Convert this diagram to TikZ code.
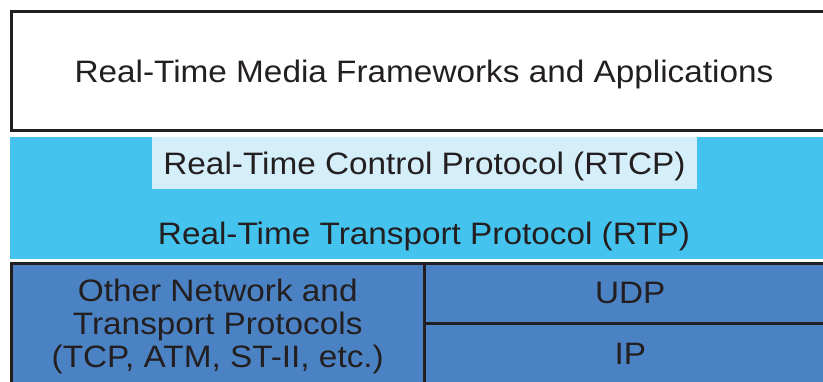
\documentclass[tikz,border=0pt]{standalone}
\usepackage{fontspec}
\setmainfont[FakeStretch=1.075]{Liberation Sans}
\usetikzlibrary{positioning}
\definecolor{ink}      {HTML}{231F20}
\definecolor{rtpcyan}  {HTML}{44C3EF}
\definecolor{rtcplight}{HTML}{D4EEFA}
\definecolor{netblue}  {HTML}{4B82C3}

\tikzset{
  layer/.style={draw=ink,line width=3pt,inner sep=0pt,outer sep=0pt,
                text=ink,align=center,text depth=0pt,
                font=\fontsize{31}{33}\selectfont},
  band/.style={inner sep=0pt,outer sep=0pt,text=ink,text depth=0pt,
                font=\fontsize{31}{33}\selectfont}
}

\begin{document}
\begin{tikzpicture}[x=1pt,y=-1pt]
      \clip (0,0) rectangle (823,381);
      \fill[white] (0,0) rectangle (823,381);
      % application layer
      \node[layer,fill=white,minimum width=825pt,minimum height=119pt]
        (apps) at (424,71) {Real-Time Media Frameworks and Applications};
      % RTP / RTCP band
      \node[band,fill=rtpcyan,minimum width=840pt,minimum height=122pt]
        (rtpband) at (430,198) {};
      \node[band,fill=rtcplight,minimum width=545pt,minimum height=52pt]
        (rtcp) at (424.5,163) {Real-Time Control Protocol (RTCP)};
      \node[band] (rtp) at (424,233) {Real-Time Transport Protocol (RTP)};
      % network layer
      \node[layer,fill=netblue,minimum width=412.5pt,minimum height=120.5pt]
        (other) at (217.75,323.75)
        {Other Network and\\Transport Protocols\\(TCP, ATM, ST-II, etc.)};
      \node[layer,fill=netblue,minimum width=412.5pt,minimum height=59.5pt,
            anchor=north west] (udp) at (other.north east) {UDP};
      \node[layer,fill=netblue,minimum width=412.5pt,minimum height=61pt,
            below=0pt of udp] (ip) {IP};
    \end{tikzpicture}
\end{document}
